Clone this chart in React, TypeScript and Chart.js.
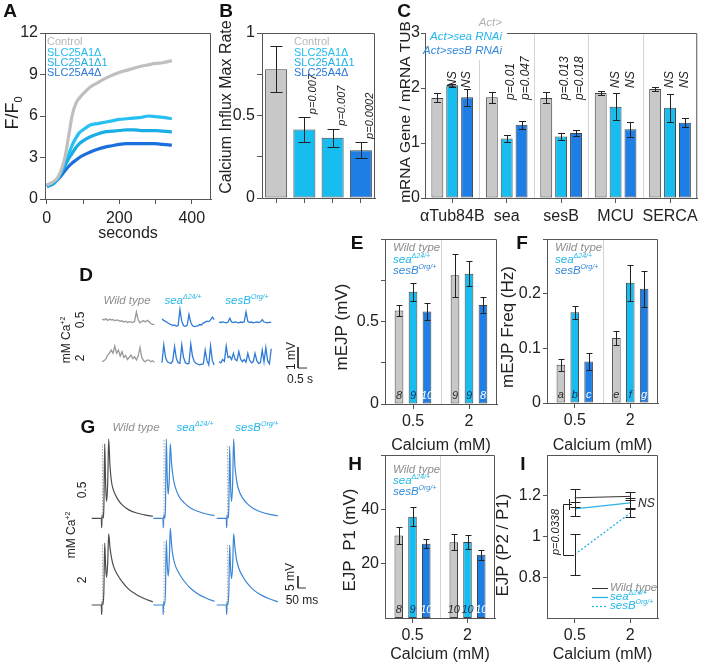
import React, { useEffect, useRef } from 'react';
import { Chart, registerables } from 'chart.js';

Chart.register(...registerables);

const W = 702;
const H = 664;
const FONT = '"Liberation Sans", Arial, Helvetica, sans-serif';
const INK = '#222222';
const AXIS = '#555555';
const SEP = '#d4d4d4';
const BAR_GRAY = '#c8c8c8';
const BAR_CYAN = '#18bdf0';
const BAR_BLUE = '#1d7fe6';
const TXT_GRAY = '#8e8e8e';
const TXT_CYAN = '#22b6e8';
const TXT_BLUE = '#3389d8';

// ---------------- Panel A ----------------
const aTime = [0, 15, 30, 40, 50, 60, 70, 80, 90, 100, 120, 140, 160, 180, 200, 220, 240, 260, 280, 300, 320, 345];
const aControl = [1.0, 1.2, 1.55, 2.1, 3.0, 4.5, 6.05, 6.9, 7.3, 7.6, 8.1, 8.4, 8.7, 8.95, 9.15, 9.3, 9.45, 9.6, 9.7, 9.8, 9.85, 10.0];
const aSlc25a1 = [1.0, 1.1, 1.5, 2.0, 2.6, 3.2, 3.9, 4.4, 4.8, 5.0, 5.35, 5.45, 5.55, 5.65, 5.75, 5.8, 5.85, 5.9, 6.0, 5.95, 5.9, 5.8];
const aSlc25a1b = [0.95, 1.05, 1.45, 1.9, 2.4, 2.9, 3.3, 3.7, 4.0, 4.2, 4.5, 4.7, 4.85, 4.9, 4.95, 5.0, 5.0, 4.95, 4.95, 4.95, 4.9, 4.85];
const aSlc25a4 = [0.9, 1.05, 1.4, 1.7, 2.05, 2.35, 2.6, 2.8, 3.0, 3.15, 3.4, 3.6, 3.75, 3.85, 3.95, 4.0, 4.0, 4.0, 4.0, 4.0, 3.95, 3.9];
const aNames = ['Control', 'SLC25A1Δ', 'SLC25A1Δ1', 'SLC25A4Δ'];
const aLineColors = ['#bfbfbf', '#27c0f2', '#19ade6', '#1b6fdc'];
const aTextColors = ['#b8b8b8', '#1fbcef', '#1fb0e4', '#2a78d6'];

// ---------------- Panel B ----------------
const bMean = [0.78, 0.415, 0.365, 0.29];
const bErr = [0.14, 0.075, 0.055, 0.05];
const bP = ['', 'p=0.007', 'p=0.007', 'p=0.0002'];

// ---------------- Panel C ----------------
const cGenes = ['αTub84B', 'sea', 'sesB', 'MCU', 'SERCA'];
const cAct = [1.82, 1.83, 1.82, 1.91, 1.98];
const cActErr = [0.08, 0.1, 0.1, 0.04, 0.03];
const cSea = [2.05, 1.08, 1.12, 1.66, 1.64];
const cSeaErr = [0.03, 0.07, 0.07, 0.25, 0.25];
const cSesB = [1.83, 1.33, 1.18, 1.25, 1.37];
const cSesBErr = [0.15, 0.07, 0.06, 0.14, 0.08];
const cNoteSea = ['NS', 'p=0.01', 'p=0.013', 'NS', 'NS'];
const cNoteSesB = ['NS', 'p=0.047', 'p=0.018', 'NS', 'NS'];
const cLegend = ['Act>', 'Act>sea RNAi', 'Act>sesB RNAi'];

// ---------------- Panel D (mEJP traces, mV, 0.1 s steps) ----------------
const dStep = 0.1;
const dWT05 = [0.16, 0.12, 0.18, 0.1, 0.15, 0.12, 0.14, 0.08, 0.12, 0.1, 0.05, 0.08, 0.02, 0.06, 0.0, 0.04, 0.02, 0.0, 0.05, 0.5, 0.12, -0.02, 0.05, 0.08, 0.02, 0.1, 0.04, -0.05, -0.1, -0.08];
const dSea05 = [0.16, 0.1, 0.05, 0.0, -0.06, -0.1, -0.15, -0.12, -0.18, -0.14, 0.62, 0.05, -0.15, -0.18, -0.14, 0.38, 0.0, -0.16, -0.2, -0.18, -0.16, -0.1, -0.12, -0.02, 0.02, 0.06, 0.04, 0.12, 0.25, 0.14];
const dSesB05 = [0.02, 0.0, 0.03, 0.0, -0.02, 0.02, 0.2, 0.02, 0.0, 0.03, 0.0, -0.02, 0.02, 0.0, 0.03, 0.5, 0.05, 0.0, 0.02, -0.02, 0.0, 0.03, 0.0, 0.02, 0.14, 0.02, 0.0, -0.02, 0.0, 0.0];
const dWT2 = [0.0, 0.05, 0.12, 0.32, 0.4, 0.55, 0.4, 0.75, 0.4, 0.55, 0.27, 0.48, 0.2, 0.3, 0.1, 0.2, 0.32, 0.15, 0.24, 0.08, 0.27, 0.68, 0.2, 0.05, 0.0, 0.08, 0.08, 0.0, 0.05, -0.02];
const dSea2 = [-0.05, 0.8, 0.2, 0.0, -0.05, -0.08, 0.05, 0.72, 0.15, -0.05, -0.08, 0.8, 0.2, -0.05, -0.1, -0.08, 0.84, 0.25, 0.0, -0.08, -0.12, -0.15, -0.12, -0.1, 0.55, 0.05, -0.15, 0.75, 0.05, -0.15];
const dSesB2 = [0.0, -0.05, 0.1, 0.02, 0.75, 0.2, 0.25, 0.1, 0.4, 0.1, 0.05, 0.48, 0.12, 0.0, 0.1, -0.02, 0.4, 0.08, -0.05, 0.0, 0.4, 0.05, -0.08, -0.05, 0.55, 0.0, 0.68, 0.05, -0.1, 0.62];
const dScaleMV = 1;
const dScaleS = 0.5;

// ---------------- Panel E ----------------
const caLabels = ['0.5', '2'];
const eWT = [0.567, 0.78];
const eWTErr = [0.035, 0.13];
const eSea = [0.68, 0.79];
const eSeaErr = [0.055, 0.075];
const eSesB = [0.56, 0.6];
const eSesBErr = [0.05, 0.05];
const eN = [['8', '9'], ['9', '9'], ['10', '8']];

// ---------------- Panel F ----------------
const fWT = [0.07, 0.119];
const fWTErr = [0.011, 0.012];
const fSea = [0.166, 0.22];
const fSeaErr = [0.012, 0.033];
const fSesB = [0.076, 0.209];
const fSesBErr = [0.015, 0.033];
const fTags = [['a', 'e'], ['b', 'f'], ['c', 'g']];

// ---------------- Panel G (EJP traces, mV vs ms after stimulus) ----------------
const gT = [-62, -2, 0, 3, 8, 14, 19, 25, 31, 38, 44, 52, 62, 75, 100, 130, 170, 220, 270, 320];
const gWT05 = [0, 0, -4, 1.5, 0, 5, 31, 14, 7, 15, 33, 22, 15, 11.5, 8, 5.5, 3.5, 2.2, 1.4, 0.8];
const gSea05 = [0, 0, -4, 1.5, 0, 5, 33, 17, 10, 17, 31, 23, 17, 13, 9, 6.5, 4.3, 2.8, 1.8, 1.1];
const gSesB05 = [0, 0, -4, 1.5, 0, 5, 30, 13, 7, 15, 33, 22, 16, 12, 8.5, 6, 4, 2.5, 1.6, 1.0];
const gWT2 = [0, 0, -4, 1.5, 0, 6, 25.8, 16, 11.5, 18, 29.6, 24, 19.5, 16, 12.5, 9.5, 6.5, 4.2, 2.6, 1.3];
const gSea2 = [0, 0, -4, 1.5, 0, 6, 27, 17, 12, 19, 32, 25, 20, 16.5, 13, 10, 7, 4.5, 2.8, 1.5];
const gSesB2 = [0, 0, -4, 1.5, 0, 6, 25, 15, 11, 17, 29.6, 24, 19, 15.5, 12, 9, 6.2, 4, 2.5, 1.3];
const gScaleMV = 5;
const gScaleMs = 50;

// ---------------- Panel H ----------------
const hWT = [30.4, 27.9];
const hWTErr = [3.0, 2.9];
const hSea = [37.3, 28.0];
const hSeaErr = [3.6, 2.5];
const hSesB = [27.3, 23.3];
const hSesBErr = [1.6, 1.8];
const hN = [['8', '10'], ['9', '10'], ['10', '10']];

// ---------------- Panel I ----------------
const iWT = [1.19, 1.197];
const iWTErr = [0.045, 0.02];
const iSea = [1.136, 1.165];
const iSeaErr = [0.035, 0.025];
const iSesB = [0.912, 1.115];
const iSesBErr = [0.1, 0.02];

// ---------------- helpers ----------------
type Area = { L: number; T: number; R: number; B: number };
type Seg = { t: string; sup?: boolean; sub?: boolean };
type TO = { size: number; color: string; italic?: boolean; bold?: boolean; align?: 'left' | 'center' | 'right'; rot?: number };
const YW = 40;
const XH = 40;
const ROT = -Math.PI / 2;
const SEA: Seg[] = [{ t: 'sea' }, { t: 'Δ24/+', sup: true }];
const SESB: Seg[] = [{ t: 'sesB' }, { t: 'Org/+', sup: true }];

function rich(ctx: CanvasRenderingContext2D, content: string | Seg[], x: number, y: number, o: TO) {
  const segs: Seg[] = typeof content === 'string' ? [{ t: content }] : content;
  const fontOf = (s: Seg) =>
    `${o.italic ? 'italic ' : ''}${o.bold ? 'bold ' : ''}${s.sup || s.sub ? Math.round(o.size * 0.62) : o.size}px ${FONT}`;
  ctx.save();
  ctx.translate(x, y);
  if (o.rot) ctx.rotate(o.rot);
  let total = 0;
  for (const s of segs) {
    ctx.font = fontOf(s);
    total += ctx.measureText(s.t).width;
  }
  let cx = o.align === 'center' ? -total / 2 : o.align === 'right' ? -total : 0;
  ctx.textBaseline = 'middle';
  ctx.textAlign = 'left';
  ctx.fillStyle = o.color;
  for (const s of segs) {
    ctx.font = fontOf(s);
    const dy = s.sup ? -o.size * 0.32 : s.sub ? o.size * 0.32 : 0;
    ctx.fillText(s.t, cx, dy);
    cx += ctx.measureText(s.t).width;
  }
  ctx.restore();
}

function poly(ctx: CanvasRenderingContext2D, pts: number[][], color: string, width = 1, dash: number[] = []) {
  ctx.save();
  ctx.strokeStyle = color;
  ctx.lineWidth = width;
  ctx.setLineDash(dash);
  ctx.beginPath();
  pts.forEach(([x, y], i) => (i ? ctx.lineTo(x, y) : ctx.moveTo(x, y)));
  ctx.stroke();
  ctx.restore();
}

function frame(ctx: CanvasRenderingContext2D, chart: any, topFrom?: number) {
  const { left, right, top, bottom } = chart.chartArea;
  poly(ctx, [[topFrom ?? left, top + 0.5], [right - 0.5, top + 0.5], [right - 0.5, bottom + 1]], AXIS);
}

function errBars(chart: any, ctx: CanvasRenderingContext2D, dsIndex: number, errs: number[], cap: number) {
  const meta = chart.getDatasetMeta(dsIndex);
  const ys = chart.scales.y;
  const data = chart.data.datasets[dsIndex].data as number[];
  meta.data.forEach((el: any, i: number) => {
    const x = Math.round(el.x) + 0.5;
    const top = Math.round(ys.getPixelForValue(data[i] + errs[i])) + 0.5;
    const bot = Math.round(ys.getPixelForValue(data[i] - errs[i])) + 0.5;
    poly(ctx, [[x, top], [x, bot]], INK);
    poly(ctx, [[x - cap, top], [x + cap, top]], INK);
    poly(ctx, [[x - cap, bot], [x + cap, bot]], INK);
  });
}

function letter(ctx: CanvasRenderingContext2D, t: string, x: number, y: number) {
  rich(ctx, t, x, y, { size: 19, bold: true, color: '#111', align: 'center' });
}

function base(a: Area, axes: boolean) {
  return {
    responsive: false,
    maintainAspectRatio: false,
    animation: false,
    devicePixelRatio: 1,
    events: [],
    layout: {
      padding: axes
        ? { left: a.L - YW, top: a.T, right: W - a.R, bottom: H - a.B - XH }
        : { left: a.L, top: a.T, right: W - a.R, bottom: H - a.B },
    },
    plugins: { legend: { display: false }, tooltip: { enabled: false }, title: { display: false } },
  };
}

function yLin(min: number, max: number, ticks: number[], lab: (v: number) => string, tickLen = 5, pad = 2) {
  return {
    type: 'linear',
    position: 'left',
    min,
    max,
    afterBuildTicks: (s: any) => {
      s.ticks = ticks.map((v) => ({ value: v }));
    },
    afterFit: (s: any) => {
      s.width = YW;
    },
    ticks: { font: { family: FONT, size: 16 }, color: INK, padding: pad, autoSkip: false, callback: (v: any) => lab(Number(v)) },
    grid: { drawOnChartArea: false, tickLength: tickLen, color: AXIS, lineWidth: 1 },
    border: { color: AXIS, width: 1 },
  };
}

function xLin(min: number, max: number, ticks: number[], lab: (v: number) => string, pad: number) {
  return {
    type: 'linear',
    position: 'bottom',
    min,
    max,
    afterBuildTicks: (s: any) => {
      s.ticks = ticks.map((v) => ({ value: v }));
    },
    afterFit: (s: any) => {
      s.height = XH;
    },
    ticks: { font: { family: FONT, size: 16 }, color: INK, padding: pad, autoSkip: false, maxRotation: 0, callback: (v: any) => lab(Number(v)) },
    grid: { drawOnChartArea: false, tickLength: 5, color: AXIS, lineWidth: 1 },
    border: { color: AXIS, width: 1 },
  };
}

function xCat(show: boolean, pad: number) {
  const ticks: any = { font: { family: FONT, size: 16 }, color: INK, padding: pad, autoSkip: false, maxRotation: 0, minRotation: 0 };
  if (!show) ticks.callback = () => '';
  return {
    type: 'category',
    position: 'bottom',
    offset: true,
    afterFit: (s: any) => {
      s.height = XH;
    },
    ticks,
    grid: { drawOnChartArea: false, offset: false, tickLength: 5, color: AXIS, lineWidth: 1 },
    border: { color: AXIS, width: 1 },
  };
}

function barDs(data: number[], color: string | string[], bp: number, cp: number) {
  return { data, backgroundColor: color, borderColor: '#444', borderWidth: 1, borderSkipped: false, barPercentage: bp, categoryPercentage: cp };
}

// ---------------- panels ----------------
function buildA() {
  const a: Area = { L: 45, T: 33, R: 211, B: 199 };
  const series = [aControl, aSlc25a1b, aSlc25a1, aSlc25a4];
  const colors = [aLineColors[0], aLineColors[2], aLineColors[1], aLineColors[3]];
  return {
    type: 'line',
    data: {
      datasets: series.map((d, k) => ({
        data: aTime.map((t, i) => ({ x: t, y: d[i] })),
        borderColor: colors[k],
        borderWidth: 3.2,
        pointRadius: 0,
        cubicInterpolationMode: 'monotone',
        fill: false,
      })),
    },
    options: {
      ...base(a, true),
      scales: {
        x: xLin(-5, 453, [0, 100, 200, 300, 400], (v) => (v % 200 === 0 ? String(v) : ''), 5),
        y: yLin(0, 12, [0, 3, 6, 9, 12], (v) => String(v)),
      },
    },
    plugins: [
      {
        id: 'decA',
        afterDraw(chart: any) {
          const ctx = chart.ctx;
          frame(ctx, chart);
          const ly = [42, 53, 63, 73];
          aNames.forEach((n, i) => rich(ctx, n, 47, ly[i], { size: 11, color: aTextColors[i] }));
          rich(ctx, [{ t: 'F/F' }, { t: '0', sub: true }], 13, 113, { size: 18, color: INK, align: 'center', rot: ROT });
          rich(ctx, 'seconds', 128, 234, { size: 16, color: INK, align: 'center' });
          letter(ctx, 'A', 10, 12);
        },
      },
    ],
  };
}

function buildB() {
  const a: Area = { L: 262, T: 33, R: 375, B: 198 };
  return {
    type: 'bar',
    data: { labels: aNames, datasets: [barDs(bMean, [BAR_GRAY, BAR_CYAN, BAR_CYAN, BAR_BLUE], 0.78, 1)] },
    options: {
      ...base(a, true),
      scales: {
        x: xCat(false, 3),
        y: yLin(0, 1, [0, 0.25, 0.5, 0.75, 1], (v) => (v === 0 ? '0' : v === 0.5 ? '0.5' : v === 1 ? '1' : '')),
      },
    },
    plugins: [
      {
        id: 'decB',
        afterDraw(chart: any) {
          const ctx = chart.ctx;
          frame(ctx, chart);
          errBars(chart, ctx, 0, bErr, 6);
          const meta = chart.getDatasetMeta(0);
          const ys = chart.scales.y;
          bP.forEach((p, i) => {
            if (!p) return;
            rich(ctx, p, meta.data[i].x + 9, ys.getPixelForValue(bMean[i] + bErr[i]) - 3, { size: 11, italic: true, color: INK, rot: ROT });
          });
          const ly = [42, 53, 63, 73];
          aNames.forEach((n, i) => rich(ctx, n, 294, ly[i], { size: 11, color: aTextColors[i] }));
          rich(ctx, 'Calcium Influx Max Rate', 227, 107, { size: 16, color: INK, align: 'center', rot: ROT });
          letter(ctx, 'B', 226, 12);
        },
      },
    ],
  };
}

function buildC() {
  const a: Area = { L: 425, T: 33, R: 698, B: 198 };
  return {
    type: 'bar',
    data: {
      labels: cGenes,
      datasets: [barDs(cAct, BAR_GRAY, 0.8, 0.82), barDs(cSea, BAR_CYAN, 0.8, 0.82), barDs(cSesB, BAR_BLUE, 0.8, 0.82)],
    },
    options: {
      ...base(a, true),
      scales: {
        x: xCat(true, 4),
        y: yLin(0, 3, [0, 1, 2, 3], (v) => String(v), 4, 1),
      },
    },
    plugins: [
      {
        id: 'decC',
        beforeDatasetsDraw(chart: any) {
          const ctx = chart.ctx;
          const { left, right, top, bottom } = chart.chartArea;
          for (let i = 1; i < cGenes.length; i++) {
            const x = Math.round(left + (i * (right - left)) / cGenes.length) + 0.5;
            poly(ctx, [[x, i === 1 ? 60 : top], [x, bottom]], SEP);
          }
        },
        afterDraw(chart: any) {
          const ctx = chart.ctx;
          frame(ctx, chart, 507);
          errBars(chart, ctx, 0, cActErr, 3.5);
          errBars(chart, ctx, 1, cSeaErr, 3.5);
          errBars(chart, ctx, 2, cSesBErr, 3.5);
          const m1 = chart.getDatasetMeta(1);
          const m2 = chart.getDatasetMeta(2);
          const note = (t: string, x: number) => {
            if (t === 'NS') rich(ctx, t, x, 88, { size: 12, italic: true, color: INK, rot: ROT });
            else rich(ctx, t, x + 4, 100, { size: 12, italic: true, color: INK, rot: ROT });
          };
          cGenes.forEach((_, i) => {
            note(cNoteSea[i], m1.data[i].x);
            note(cNoteSesB[i], m2.data[i].x);
          });
          const cols = ['#b0b0b0', TXT_CYAN, TXT_BLUE];
          const ly = [23, 37, 51];
          cLegend.forEach((t, i) => rich(ctx, t, 502, ly[i], { size: 11.5, italic: true, color: cols[i], align: 'right' }));
          rich(ctx, 'mRNA Gene / mRNA TUB', 406, 112, { size: 15.5, color: INK, align: 'center', rot: ROT });
          letter(ctx, 'C', 404, 12);
        },
      },
    ],
  };
}

function rowLabels(ctx: CanvasRenderingContext2D, caX: number, caY: number, x05: number, y05: number, x2: number, y2: number) {
  rich(ctx, [{ t: 'mM Ca' }, { t: '+2', sup: true }], caX, caY, { size: 12, color: INK, align: 'center', rot: ROT });
  rich(ctx, '0.5', x05, y05, { size: 12, color: INK, align: 'center', rot: ROT });
  rich(ctx, '2', x2, y2, { size: 12, color: INK, align: 'center', rot: ROT });
}

function buildD() {
  const a: Area = { L: 95, T: 295, R: 315, B: 380 };
  const pxPerS = 18;
  const pxPerMV = 21;
  const xMax = (a.R - a.L) / pxPerS;
  const yMax = (a.B - a.T) / pxPerMV;
  const colStart = [0.4, 3.72, 6.89];
  const rowBase = [2.74, 0.87];
  const bar = [11.28, 0.57];
  const rows = [
    [dWT05, dSea05, dSesB05],
    [dWT2, dSea2, dSesB2],
  ];
  const datasets: any[] = [];
  rows.forEach((row, r) =>
    row.forEach((vals, c) =>
      datasets.push({
        data: vals.map((v, i) => ({ x: colStart[c] + i * dStep, y: rowBase[r] + v })),
        borderColor: c === 0 ? '#9a9a9a' : '#2f7bd6',
        borderWidth: 1.3,
        pointRadius: 0,
        tension: 0,
      }),
    ),
  );
  datasets.push({
    data: [
      { x: bar[0], y: bar[1] + dScaleMV },
      { x: bar[0], y: bar[1] },
      { x: bar[0] + dScaleS, y: bar[1] },
    ],
    borderColor: '#333',
    borderWidth: 1,
    pointRadius: 0,
    tension: 0,
  });
  return {
    type: 'line',
    data: { datasets },
    options: {
      ...base(a, false),
      scales: {
        x: { type: 'linear', display: false, min: 0, max: xMax },
        y: { type: 'linear', display: false, min: 0, max: yMax },
      },
    },
    plugins: [
      {
        id: 'decD',
        afterDraw(chart: any) {
          const ctx = chart.ctx;
          rich(ctx, 'Wild type', 127, 301, { size: 11.5, italic: true, color: TXT_GRAY, align: 'center' });
          rich(ctx, SEA, 183, 301, { size: 11.5, italic: true, color: TXT_CYAN, align: 'center' });
          rich(ctx, SESB, 247, 301, { size: 11.5, italic: true, color: TXT_CYAN, align: 'center' });
          rowLabels(ctx, 67, 340, 81, 320, 81, 358);
          rich(ctx, '1 mV', 292, 356, { size: 12, color: INK, align: 'center', rot: ROT });
          rich(ctx, '0.5 s', 300, 380, { size: 12, color: INK, align: 'center' });
          letter(ctx, 'D', 86, 276);
        },
      },
    ],
  };
}

function buildG() {
  const a: Area = { L: 85, T: 425, R: 315, B: 615 };
  const msPerPx = 6.25;
  const pxPerMV = 2.4;
  const xMax = (a.R - a.L) * msPerPx;
  const yMax = (a.B - a.T) / pxPerMV;
  const colStim = [104, 489, 885];
  const rowBase = [40.3, 4.17];
  const bar = [1331, 11.25];
  const rows = [
    [gWT05, gSea05, gSesB05],
    [gWT2, gSea2, gSesB2],
  ];
  const markers: any[] = [];
  const traces: any[] = [];
  rows.forEach((row, r) =>
    row.forEach((vals, c) => {
      markers.push({
        data: [
          { x: colStim[c] + 5, y: rowBase[r] - 3 },
          { x: colStim[c] + 5, y: rowBase[r] + vals[6] },
        ],
        borderColor: '#a8a8a8',
        borderWidth: 1,
        borderDash: [1.5, 1.5],
        pointRadius: 0,
      });
      traces.push({
        data: gT.map((t, i) => ({ x: colStim[c] + t, y: rowBase[r] + vals[i] })),
        borderColor: c === 0 ? '#4d4d4d' : '#3b86d6',
        borderWidth: 1.2,
        pointRadius: 0,
        cubicInterpolationMode: 'monotone',
      });
    }),
  );
  const scaleBar = {
    data: [
      { x: bar[0], y: bar[1] + gScaleMV },
      { x: bar[0], y: bar[1] },
      { x: bar[0] + gScaleMs, y: bar[1] },
    ],
    borderColor: '#333',
    borderWidth: 1,
    pointRadius: 0,
    tension: 0,
  };
  return {
    type: 'line',
    data: { datasets: [...markers, ...traces, scaleBar] },
    options: {
      ...base(a, false),
      scales: {
        x: { type: 'linear', display: false, min: 0, max: xMax },
        y: { type: 'linear', display: false, min: 0, max: yMax },
      },
    },
    plugins: [
      {
        id: 'decG',
        afterDraw(chart: any) {
          const ctx = chart.ctx;
          rich(ctx, 'Wild type', 136, 428, { size: 11.5, italic: true, color: TXT_GRAY, align: 'center' });
          rich(ctx, SEA, 195, 428, { size: 11.5, italic: true, color: TXT_CYAN, align: 'center' });
          rich(ctx, SESB, 257, 428, { size: 11.5, italic: true, color: TXT_CYAN, align: 'center' });
          rowLabels(ctx, 72, 535, 83, 490, 83, 580);
          rich(ctx, '5 mV', 291, 577, { size: 12, color: INK, align: 'center', rot: ROT });
          rich(ctx, '50 ms', 302, 601, { size: 12, color: INK, align: 'center' });
          letter(ctx, 'G', 88, 428);
        },
      },
    ],
  };
}

type GroupSpec = {
  a: Area;
  min: number;
  max: number;
  ticks: number[];
  lab: (v: number) => string;
  series: number[][];
  errs: number[][];
  notes: string[][];
  title: string;
  titleAt: number[];
  letter: string;
  letterAt: number[];
  legendX: number;
  legendY: number[];
  xTitleY: number;
};

function legend3(ctx: CanvasRenderingContext2D, x: number, ys: number[]) {
  rich(ctx, 'Wild type', x, ys[0], { size: 11.5, italic: true, color: TXT_GRAY });
  rich(ctx, SEA, x, ys[1], { size: 11.5, italic: true, color: TXT_CYAN });
  rich(ctx, SESB, x, ys[2], { size: 11.5, italic: true, color: TXT_BLUE });
}

function buildGrouped(p: GroupSpec) {
  const colors = [BAR_GRAY, BAR_CYAN, BAR_BLUE];
  const noteColors = ['#2a2a2a', '#1a3058', '#ffffff'];
  return {
    type: 'bar',
    data: { labels: caLabels, datasets: p.series.map((d, j) => barDs(d, colors[j], 0.62, 0.75)) },
    options: {
      ...base(p.a, true),
      scales: { x: xCat(true, 3), y: yLin(p.min, p.max, p.ticks, p.lab, 4, 2) },
    },
    plugins: [
      {
        id: 'dec' + p.letter,
        beforeDatasetsDraw(chart: any) {
          const { left, right, top, bottom } = chart.chartArea;
          const x = Math.round((left + right) / 2) + 0.5;
          poly(chart.ctx, [[x, top], [x, bottom]], SEP);
        },
        afterDraw(chart: any) {
          const ctx = chart.ctx;
          const { left, right, bottom } = chart.chartArea;
          frame(ctx, chart);
          p.series.forEach((_, j) => errBars(chart, ctx, j, p.errs[j], 3));
          p.series.forEach((_, j) => {
            const meta = chart.getDatasetMeta(j);
            meta.data.forEach((el: any, i: number) =>
              rich(ctx, p.notes[j][i], el.x, bottom - 8, { size: 11, italic: true, color: noteColors[j], align: 'center' }),
            );
          });
          legend3(ctx, p.legendX, p.legendY);
          rich(ctx, p.title, p.titleAt[0], p.titleAt[1], { size: 17, color: INK, align: 'center', rot: ROT });
          rich(ctx, 'Calcium (mM)', (left + right) / 2, p.xTitleY, { size: 16, color: INK, align: 'center' });
          letter(ctx, p.letter, p.letterAt[0], p.letterAt[1]);
        },
      },
    ],
  };
}

function buildE() {
  return buildGrouped({
    a: { L: 385, T: 239, R: 497, B: 404 },
    min: 0,
    max: 1,
    ticks: [0, 0.25, 0.5, 0.75, 1],
    lab: (v) => (v === 0 ? '0' : v === 0.5 ? '0.5' : ''),
    series: [eWT, eSea, eSesB],
    errs: [eWTErr, eSeaErr, eSesBErr],
    notes: eN,
    title: 'mEJP (mV)',
    titleAt: [342, 327],
    letter: 'E',
    letterAt: [357, 244],
    legendX: 393,
    legendY: [248, 260, 271],
    xTitleY: 446,
  });
}

function buildF() {
  return buildGrouped({
    a: { L: 547, T: 239, R: 658, B: 403 },
    min: 0,
    max: 0.3,
    ticks: [0, 0.1, 0.2, 0.3],
    lab: (v) => (v === 0 ? '0' : v < 0.15 ? '0.1' : v < 0.25 ? '0.2' : ''),
    series: [fWT, fSea, fSesB],
    errs: [fWTErr, fSeaErr, fSesBErr],
    notes: fTags,
    title: 'mEJP Freq (Hz)',
    titleAt: [508, 327],
    letter: 'F',
    letterAt: [522, 244],
    legendX: 555,
    legendY: [248, 260, 271],
    xTitleY: 446,
  });
}

function buildH() {
  return buildGrouped({
    a: { L: 385, T: 455, R: 495, B: 618 },
    min: 0,
    max: 60,
    ticks: [20, 40, 60],
    lab: (v) => (v === 60 ? '' : String(v)),
    series: [hWT, hSea, hSesB],
    errs: [hWTErr, hSeaErr, hSesBErr],
    notes: hN,
    title: 'EJP  P1 (mV)',
    titleAt: [350, 540],
    letter: 'H',
    letterAt: [355, 465],
    legendX: 393,
    legendY: [470, 481, 492],
    xTitleY: 655,
  });
}

function buildI() {
  const a: Area = { L: 547, T: 455, R: 658, B: 618 };
  return {
    type: 'line',
    data: {
      labels: caLabels,
      datasets: [
        { data: iWT, borderColor: '#333333', borderWidth: 1, pointRadius: 0 },
        { data: iSea, borderColor: '#2ab3e3', borderWidth: 1.3, pointRadius: 0 },
        { data: iSesB, borderColor: '#2ab3e3', borderWidth: 1.3, borderDash: [2, 2], pointRadius: 0 },
      ],
    },
    options: {
      ...base(a, true),
      scales: {
        x: xCat(true, 3),
        y: yLin(0.6, 1.4, [0.8, 1, 1.2], (v) => (Math.abs(v - 1) < 1e-6 ? '1' : v.toFixed(1)), 4, 2),
      },
    },
    plugins: [
      {
        id: 'decI',
        afterDraw(chart: any) {
          const ctx = chart.ctx;
          const { left, right } = chart.chartArea;
          frame(ctx, chart);
          errBars(chart, ctx, 0, iWTErr, 5);
          errBars(chart, ctx, 1, iSeaErr, 5);
          errBars(chart, ctx, 2, iSesBErr, 5);
          rich(ctx, 'NS', 638, 504, { size: 12, italic: true, color: INK });
          rich(ctx, 'p=0.0338', 556, 532, { size: 11, italic: true, color: INK, align: 'center', rot: ROT });
          poly(ctx, [[572, 504.5], [563.5, 504.5], [563.5, 555.5], [574, 555.5]], INK);
          poly(ctx, [[569.5, 499], [569.5, 510]], INK);
          poly(ctx, [[592, 588.5], [608, 588.5]], '#333333', 1);
          poly(ctx, [[592, 597.5], [608, 597.5]], '#2ab3e3', 1.3);
          poly(ctx, [[592, 606.5], [608, 606.5]], '#2ab3e3', 1.3, [2, 2]);
          rich(ctx, 'Wild type', 610, 588, { size: 11.5, italic: true, color: TXT_GRAY });
          rich(ctx, SEA, 610, 597, { size: 11.5, italic: true, color: TXT_CYAN });
          rich(ctx, SESB, 610, 606, { size: 11.5, italic: true, color: TXT_CYAN });
          rich(ctx, 'EJP (P2 / P1)', 503, 545, { size: 17, color: INK, align: 'center', rot: ROT });
          rich(ctx, 'Calcium (mM)', (left + right) / 2, 655, { size: 16, color: INK, align: 'center' });
          letter(ctx, 'I', 523, 465);
        },
      },
    ],
  };
}

const builders = [buildA, buildB, buildC, buildD, buildE, buildF, buildG, buildH, buildI];

export default function App() {
  const refs = useRef<(HTMLCanvasElement | null)[]>([]);
  useEffect(() => {
    const charts = builders.map((b, i) => new Chart(refs.current[i] as HTMLCanvasElement, b() as any));
    return () => charts.forEach((c) => c.destroy());
  }, []);
  return (
    <div style={{ position: 'absolute', left: 0, top: 0, width: W, height: H, background: '#ffffff', overflow: 'hidden' }}>
      {builders.map((_, i) => (
        <canvas
          key={i}
          ref={(el) => {
            refs.current[i] = el;
          }}
          width={W}
          height={H}
          style={{ position: 'absolute', left: 0, top: 0, width: W, height: H }}
        />
      ))}
    </div>
  );
}
